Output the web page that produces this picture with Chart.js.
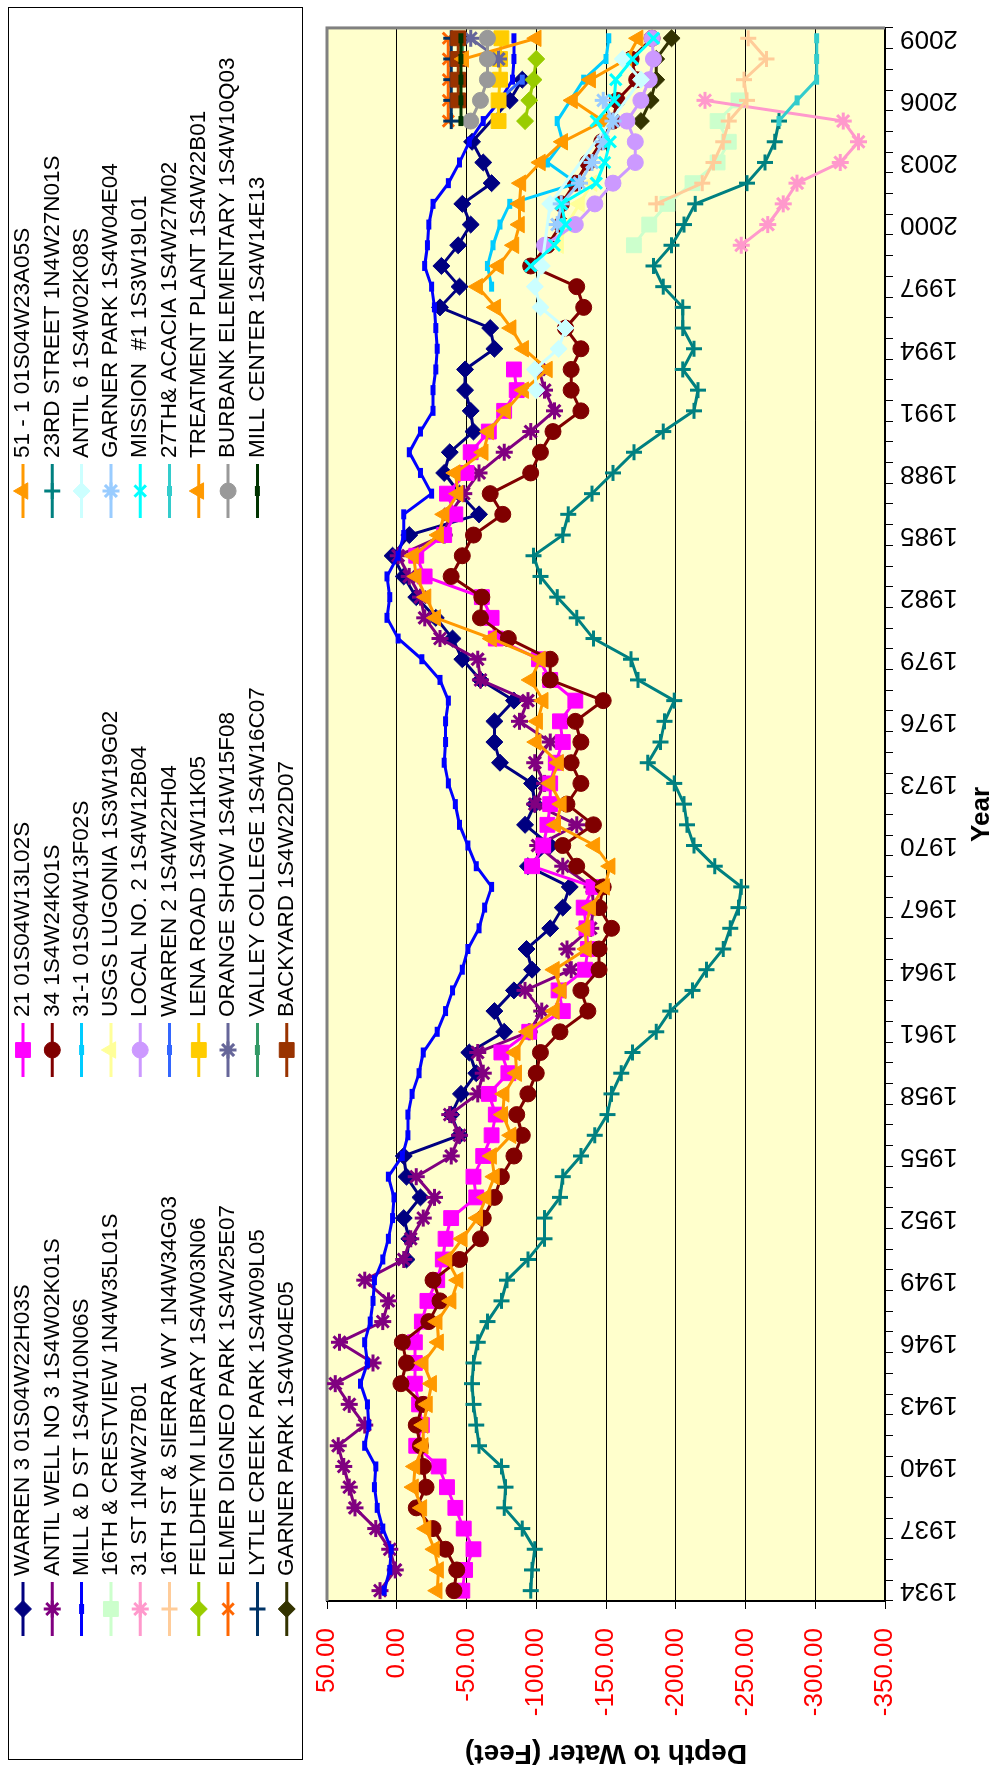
<!DOCTYPE html>
<html>
<head>
<meta charset="utf-8">
<script src="https://cdn.jsdelivr.net/npm/chart.js@4.4.0/dist/chart.umd.min.js"></script>
<style>
  html, body { margin: 0; padding: 0; background: #fff; overflow: hidden; }
  #wrap {
    position: absolute; left: 0; top: 0; width: 1767px; height: 995px;
    transform-origin: 0 0; transform: translateY(1767px) rotate(-90deg);
  }
</style>
</head>
<body>
<div id="wrap"><canvas id="chart" width="1767" height="995"></canvas></div>
<script>
const years = [1934, 1935, 1936, 1937, 1938, 1939, 1940, 1941, 1942, 1943,
  1944, 1945, 1946, 1947, 1948, 1949, 1950, 1951, 1952, 1953,
  1954, 1955, 1956, 1957, 1958, 1959, 1960, 1961, 1962, 1963,
  1964, 1965, 1966, 1967, 1968, 1969, 1970, 1971, 1972, 1973,
  1974, 1975, 1976, 1977, 1978, 1979, 1980, 1981, 1982, 1983,
  1984, 1985, 1986, 1987, 1988, 1989, 1990, 1991, 1992, 1993,
  1994, 1995, 1996, 1997, 1998, 1999, 2000, 2001, 2002, 2003,
  2004, 2005, 2006, 2007, 2008, 2009];

const depthTicks = [50, 0, -50, -100, -150, -200, -250, -300, -350];

// each well: first year of record + depth readings (feet), one per year
const warren3Start = 1950;
const warren3 = [-7, -9, -5, -17, -7, -5, -45, -39, -46, -57,
  -52, -77, -70, -84, -97, -93, -110, -119, -124, -94,
  -110, -92, -99, -97, -74, -70, -70, -84, -60, -47,
  -40, -28, -14, -5, 3, -9, -59, -45, -34, -38,
  -55, -53, -49, -49, -70, -67, -31, -45, -32, -44,
  -53, -47, -68, -62, -54, null, -81, -90];

const antilWell3Start = 1934;
const antilWell3 = [12, 1, 5, 15, 30, 34, 38, 42, 23, 34,
  44, 17, 41, 10, 6, 23, -5, -10, -19, -27,
  -14, -39, -45, -38, -58, -62, -58, -95, -104, -92,
  -125, -122, -139, -141, -140, -119, -101, -129, -99, -106,
  -99, -110, -88, -94, -60, -58, -31, -20, -17, -9,
  -1, -34, -38, -48, -59, -77, -96, -113, -106, -102];

const millDStart = 1934;
const millD = [9, 5, 4, 10, 14, 16, 15, 23, 20, 21,
  26, 21, 23, 19, 17, 16, 10, 6, 3, 2,
  6, -4, -8, -8, -11, -16, -19, -29, -35, -40,
  -47, -51, -59, -63, -68, -57, -51, -45, -42, -37,
  -34, -35, -35, -37, -31, -18, -1, 7, 5, 7,
  -1, -5, -5, -25, -17, -9, -17, -26, -26, -28,
  -29, -28, -27, -25, -20, -22, -23, -26, -37, -45,
  -52, -62, -74, -83, -84, -84];

const crestview16Start = 1999;
const crestview16 = [-170, -181, -194, -212, -230, -238, -230, -245];
const st31Start = 1999;
const st31 = [-247, -266, -277, -287, -318, -331, -320, -221];
const sierra16Start = 2001;
const sierra16 = [-186, -219, -227, -234, -238, -251, -249, -265, -252];
const feldheymStart = 2005;
const feldheym = [-92, -95, -98, -100];
const elmerStart = 2005;
const elmer = [-37, -37, -37, -37, -37];
const lytleStart = 2005;
const lytle = [-39, -39, -39, -39, -39];
const garner05Start = 2005;
const garner05 = [-175, -182, -186, -186, -197];

const well21Start = 1934;
const well21 = [-47, -49, -55, -48, -42, -36, -30, -14, -18, -16,
  -13, -13, -13, -18, -22, -29, -33, -35, -39, -57,
  -55, -62, -68, -71, -66, -80, -75, -95, -119, -116,
  -135, -137, -136, -134, -141, -97, -105, -108, -110, -110,
  -114, -119, -117, -128, -110, -102, -71, -68, -61, -20,
  -14, -34, -42, -36, -50, -53, -66, -77, -86, -84];

const well34Start = 1934;
const well34 = [-41, -43, -35, -26, -14, -21, -19, -17, -14, -19,
  -3, -7, -4, -23, -31, -26, -45, -60, -62, -70,
  -75, -84, -90, -86, -94, -100, -103, -117, -137, -132,
  -145, -145, -154, -145, -148, -129, -119, -141, -122, -132,
  -125, -132, -128, -148, -110, -110, -80, -60, -61, -39,
  -47, -55, -76, -67, -96, -103, -112, -132, -125, -125,
  -132, -121, -134, -129, -96, -108, -118, -118, -128, -137,
  -147, -155, -158, -172, -168, -183];

const well31_1Start = 1997;
const well31_1 = [-68, -65, -69, -74, -81, -129, -108, -119, -115, null, -134, -150, -152];
const lugoniaStart = 1999;
const lugonia = [-116, -122, -131, -140];
const local2Start = 1999;
const local2 = [-106, -128, -142, -155, -171, -171, -165, -175, -181, -184, -183];
const warren2Start = 2006;
const warren2 = [-73, -90];
const lenaStart = 2005;
const lena = [-73, -73, -74, -74, -75];
const orangeShowStart = 2008;
const orangeShow = [-73, -53];
const valleyStart = 2008;
const valley = [-47, -47];
const backyardStart = 2006;
const backyard = [-44, -44, -44, -44];

const well51_1Start = 1934;
const well51_1 = [-29, -30, -27, -21, -18, -12, -13, -19, -19, -22,
  -25, -19, -30, -29, -39, -44, -36, -47, -58, -64,
  -70, -68, -82, -76, -77, -86, -85, -94, -113, -118,
  -113, -136, -135, -139, -149, -153, -142, -114, -118, -110,
  -116, -100, -101, -105, -96, -103, -68, -28, -21, -14,
  -12, -30, -34, -44, -42, -62, -66, -78, -91, -108,
  -91, -82, -71, -58, -73, -84, -88, -88, -89, -103,
  -119, -148, -126, -139, -165, -173];

const street23Start = 1934;
const street23 = [-96, -97, -99, -90, -77, -78, -75, -59, -57, -55,
  -54, -55, -58, -65, -75, -79, -94, -106, -106, -117,
  -119, -132, -142, -151, -154, -161, -169, -186, -196, -212,
  -222, -234, -239, -245, -247, -228, -213, -208, -206, -199,
  -180, -189, -192, -199, -173, -168, -141, -129, -115, -103,
  -98, -119, -123, -140, -155, -170, -191, -213, -216, -205,
  -213, -205, -205, -191, -184, -197, -206, -214, -251, -264,
  -271, -274];

const antil6Start = 1992;
const antil6 = [-100, -99, -116, -121, -103, -99, -104, null, null, -110, null, null, null, null, null, -175, -162];
const garner04Start = 2000;
const garner04 = [-115, -118, -131, -140, -148, -155, -148];
const mission1Start = 1998;
const mission1 = [-96, -113, -121, -118, -143, -149, -153, -143, -156, -157, -169, -184];
const acacia27Start = 2005;
const acacia27 = [-274, -287, -301, -301, -301];
const treatmentStart = 2008;
const treatment = [-48, -100];
const burbankStart = 2005;
const burbank = [-53, -60, -65, -65, -65];
const millCenterStart = 2005;
const millCenter = [-46, -46, -46, -46, -46];

function onYears(start, values) {
  const out = years.map(() => null);
  values.forEach((v, i) => { out[start - years[0] + i] = v; });
  return out;
}

const wells = [
  ['WARREN 3 01S04W22H03S', '#000080', 'rectRot', warren3Start, warren3],
  ['ANTIL WELL NO 3 1S4W02K01S', '#800080', 'star', antilWell3Start, antilWell3],
  ['MILL & D ST 1S4W10N06S', '#0000FF', 'line', millDStart, millD],
  ['16TH & CRESTVIEW 1N4W35L01S', '#CCFFCC', 'rect', crestview16Start, crestview16],
  ['31 ST 1N4W27B01', '#FF99CC', 'star', st31Start, st31],
  ['16TH ST & SIERRA WY 1N4W34G03', '#FFCC99', 'cross', sierra16Start, sierra16],
  ['FELDHEYM LIBRARY 1S4W03N06', '#99CC00', 'rectRot', feldheymStart, feldheym],
  ['ELMER DIGNEO PARK 1S4W25E07', '#FF6600', 'crossRot', elmerStart, elmer],
  ['LYTLE CREEK PARK 1S4W09L05', '#003366', 'cross', lytleStart, lytle],
  ['GARNER PARK 1S4W04E05', '#333300', 'rectRot', garner05Start, garner05],
  ['21 01S04W13L02S', '#FF00FF', 'rect', well21Start, well21],
  ['34 1S4W24K01S', '#800000', 'circle', well34Start, well34],
  ['31-1 01S04W13F02S', '#00CCFF', 'line', well31_1Start, well31_1],
  ['USGS LUGONIA 1S3W19G02', '#FFFF99', 'triangle', lugoniaStart, lugonia],
  ['LOCAL NO. 2 1S4W12B04', '#CC99FF', 'circle', local2Start, local2],
  ['WARREN 2 1S4W22H04', '#3366FF', 'line', warren2Start, warren2],
  ['LENA ROAD 1S4W11K05', '#FFCC00', 'rect', lenaStart, lena],
  ['ORANGE SHOW 1S4W15F08', '#666699', 'star', orangeShowStart, orangeShow],
  ['VALLEY COLLEGE 1S4W16C07', '#339966', 'line', valleyStart, valley],
  ['BACKYARD 1S4W22D07', '#993300', 'rect', backyardStart, backyard],
  ['51 - 1 01S04W23A05S', '#FF9900', 'triangle', well51_1Start, well51_1],
  ['23RD STREET 1N4W27N01S', '#008080', 'cross', street23Start, street23],
  ['ANTIL 6 1S4W02K08S', '#CCFFFF', 'rectRot', antil6Start, antil6],
  ['GARNER PARK 1S4W04E04', '#99CCFF', 'star', garner04Start, garner04],
  ['MISSION  #1 1S3W19L01', '#00FFFF', 'crossRot', mission1Start, mission1],
  ['27TH& ACACIA 1S4W27M02', '#33CCCC', 'line', acacia27Start, acacia27],
  ['TREATMENT PLANT 1S4W22B01', '#FF9900', 'triangle', treatmentStart, treatment],
  ['BURBANK ELEMENTARY 1S4W10Q03', '#999999', 'circle', burbankStart, burbank],
  ['MILL CENTER 1S4W14E13', '#003300', 'line', millCenterStart, millCenter],
];

const markerSize = { rect: 10.5, rectRot: 8.5, circle: 8, triangle: 9.5, cross: 8, star: 8.5, crossRot: 8, line: 5 };
const openMarkers = ['cross', 'star', 'crossRot', 'line'];
function markerBorder(style) {
  if (style === 'line') return 5;
  return openMarkers.includes(style) ? 3 : 1;
}

const datasets = wells.map(([name, color, style, start, values], i) => ({
  label: name,
  data: onYears(start, values),
  borderColor: color,
  backgroundColor: color,
  borderWidth: 3,
  pointStyle: style,
  pointRadius: markerSize[style],
  pointHoverRadius: markerSize[style],
  pointBorderWidth: markerBorder(style),
  pointBackgroundColor: color,
  pointBorderColor: color,
  tension: 0,
  spanGaps: true,
  order: wells.length - i,
}));

const plotBackground = {
  id: 'plotBackground',
  beforeDraw(chart) {
    const { ctx, chartArea: a } = chart;
    ctx.save();
    ctx.fillStyle = '#FFFFCC';
    ctx.fillRect(a.left, a.top, a.right - a.left, a.bottom - a.top);
    ctx.restore();
  },
  beforeDatasetsDraw(chart) {
    const { ctx, chartArea: a } = chart;
    ctx.save();
    ctx.strokeStyle = '#808080';
    ctx.lineWidth = 3;
    ctx.beginPath();
    ctx.moveTo(a.left, a.top);
    ctx.lineTo(a.right, a.top);
    ctx.lineTo(a.right, a.bottom);
    ctx.stroke();
    ctx.restore();
  },
};

// legend: 3 columns x 10 rows, filled column by column like the spreadsheet
const wellLegend = {
  id: 'wellLegend',
  afterDraw(chart) {
    const ctx = chart.ctx;
    const colX = [158, 717, 1276];
    ctx.save();
    ctx.strokeStyle = '#000';
    ctx.lineWidth = 1;
    ctx.strokeRect(7.5, 8.5, 1752, 294);
    ctx.font = "22.5px 'Liberation Sans', Arial, sans-serif";
    ctx.textBaseline = 'middle';
    chart.data.datasets.forEach((ds, i) => {
      const cx = colX[Math.floor(i / 10)];
      const cy = 23 + (i % 10) * 29.3;
      ctx.strokeStyle = ds.borderColor;
      ctx.fillStyle = ds.borderColor;
      ctx.lineWidth = 3;
      ctx.beginPath();
      ctx.moveTo(cx - 27, cy);
      ctx.lineTo(cx + 27, cy);
      ctx.stroke();
      ctx.lineWidth = ds.pointBorderWidth;
      Chart.helpers.drawPoint(ctx, {
        pointStyle: ds.pointStyle, radius: ds.pointRadius, rotation: 0, borderWidth: ds.pointBorderWidth,
      }, cx, cy);
      ctx.fillStyle = '#000';
      ctx.fillText(ds.label, cx + 33, cy);
    });
    ctx.restore();
  },
};

Chart.defaults.font.family = "'Liberation Sans', Arial, sans-serif";

new Chart(document.getElementById('chart'), {
  type: 'line',
  data: { labels: years.map(String), datasets },
  options: {
    responsive: false,
    animation: false,
    devicePixelRatio: 1,
    layout: { padding: { top: 327, left: 0, right: 10, bottom: 0 } },
    plugins: { legend: { display: false }, tooltip: { enabled: false } },
    scales: {
      x: {
        type: 'category',
        offset: true,
        grid: { display: true, drawOnChartArea: false, drawTicks: true, tickLength: 8, color: '#000', offset: true },
        border: { display: true, color: '#000', width: 2 },
        ticks: {
          autoSkip: false, minRotation: 90, maxRotation: 90, padding: 7, color: '#000',
          font: { size: 26 },
          callback: (v, i) => ((years[i] - years[0]) % 3 === 0 ? String(years[i]) : ''),
        },
        title: { display: true, text: 'Year', color: '#000', padding: 0, font: { size: 26, weight: 'bold', lineHeight: 1 } },
        afterFit: (s) => { s.height = 110; },
      },
      y: {
        min: depthTicks[depthTicks.length - 1],
        max: depthTicks[0],
        grid: { color: '#000', lineWidth: 1, tickLength: 8 },
        border: { display: true, color: '#000', width: 2 },
        ticks: {
          stepSize: 50, color: '#FF0000', padding: 19,
          font: { size: 26 },
          callback: (v) => Number(v).toFixed(2),
        },
        title: { display: true, text: 'Depth to Water (Feet)', color: '#000', padding: 0, font: { size: 28, weight: 'bold', lineHeight: 1 } },
        afterFit: (s) => { s.width = 166; },
      },
    },
  },
  plugins: [plotBackground, wellLegend],
});
</script>
</body>
</html>
